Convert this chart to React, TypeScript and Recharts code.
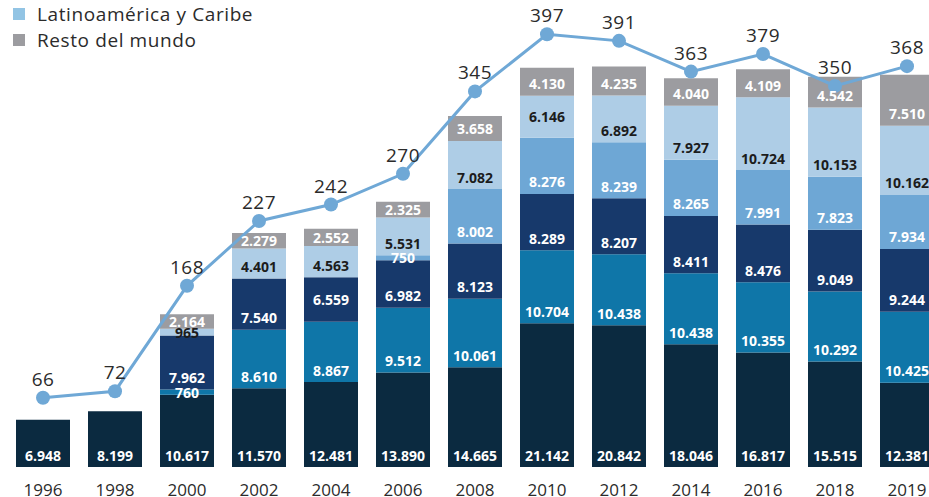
import React from 'react';
import { ComposedChart, Bar, Line, XAxis, YAxis, LabelList } from 'recharts';

const years = ['1996', '1998', '2000', '2002', '2004', '2006', '2008', '2010', '2012', '2014', '2016', '2018', '2019'];
const serie1 = [6948, 8199, 10617, 11570, 12481, 13890, 14665, 21142, 20842, 18046, 16817, 15515, 12381];
const serie2 = [0, 0, 760, 8610, 8867, 9512, 10061, 10704, 10438, 10438, 10355, 10292, 10425];
const serie3 = [0, 0, 7962, 7540, 6559, 6982, 8123, 8289, 8207, 8411, 8476, 9049, 9244];
const serie4 = [0, 0, 0, 0, 0, 750, 8002, 8276, 8239, 8265, 7991, 7823, 7934];
const latam = [0, 0, 965, 4401, 4563, 5531, 7082, 6146, 6892, 7927, 10724, 10153, 10162];
const resto = [0, 0, 2164, 2279, 2552, 2325, 3658, 4130, 4235, 4040, 4109, 4542, 7510];
const total = [66, 72, 168, 227, 242, 270, 345, 397, 391, 363, 379, 350, 368];

const data = years.map((year, i) => ({
  year,
  s1: serie1[i],
  s2: serie2[i],
  s3: serie3[i],
  s4: serie4[i],
  latam: latam[i],
  resto: resto[i],
  total: total[i],
}));

const series = [
  { key: 's1', color: '#0b2a40', text: '#ffffff' },
  { key: 's2', color: '#0f76a8', text: '#ffffff' },
  { key: 's3', color: '#17396b', text: '#ffffff' },
  { key: 's4', color: '#6ea7d5', text: '#ffffff' },
  { key: 'latam', color: '#aecde6', text: '#1c1c1c' },
  { key: 'resto', color: '#9c9ca0', text: '#ffffff' },
];

const legendItems = [
  { label: 'Latinoamérica y Caribe', color: '#92c4e4' },
  { label: 'Resto del mundo', color: '#9c9ca0' },
];

const fmt = (v: number) => String(v).replace(/\B(?=(\d{3})+(?!\d))/g, '.');

const font = '"Open Sans", sans-serif';

// labels sit near the bottom of each segment, centred when the segment (or the one under it) is thin
const makeBarLabel = (idx: number) => (props: any) => {
  const { x, y, width, height, value, index } = props;
  if (!value) return null;
  const h = Number(height);
  const prevKey = idx > 0 ? series[idx - 1].key : null;
  const prevVal = prevKey ? (data[index] as any)[prevKey] : 0;
  const prevH = prevVal ? (h / value) * prevVal : Infinity;
  const cy = h < 20 || prevH < 20 ? Number(y) + h / 2 : Number(y) + h - 12;
  return (
    <text
      x={Number(x) + Number(width) / 2}
      y={cy}
      textAnchor="middle"
      dominantBaseline="central"
      fill={series[idx].text}
      fontFamily={font}
      fontWeight={700}
      fontSize={14}
    >
      {fmt(value)}
    </text>
  );
};

const lineLabel = (props: any) => {
  const { x, y, value } = props;
  return (
    <text x={x} y={Number(y) - 19} textAnchor="middle" dominantBaseline="central" fill="#2b2b2b" fontFamily={font} fontSize={19} letterSpacing={0.5}>
      {value}
    </text>
  );
};

const YearTick = (props: any) => {
  const { x, y, payload } = props;
  return (
    <text x={x} y={Number(y) + 22} textAnchor="middle" dominantBaseline="central" fill="#2b2b2b" fontFamily={font} fontSize={17}>
      {payload.value}
    </text>
  );
};

export default function App() {
  return (
    <div style={{ position: 'absolute', left: 0, top: 0, width: 929, height: 497, overflow: 'hidden', background: '#fff' }}>
      <ComposedChart width={943} height={497} data={data} margin={{ top: 20, right: 0, left: 7, bottom: 0 }}>
        <XAxis dataKey="year" axisLine={false} tickLine={false} tickSize={0} tickMargin={0} height={30} tick={<YearTick />} interval={0} />
        <YAxis yAxisId="bars" hide domain={[0, 65700]} />
        <YAxis yAxisId="line" hide orientation="right" domain={[3, 410]} />
        {series.map((s, i) => (
          <Bar key={s.key} yAxisId="bars" dataKey={s.key} stackId="a" fill={s.color} barSize={54} isAnimationActive={false}>
            <LabelList dataKey={s.key} content={makeBarLabel(i)} />
          </Bar>
        ))}
        <Line
          yAxisId="line"
          dataKey="total"
          stroke="#6fa8d6"
          strokeWidth={3}
          dot={{ r: 7, fill: '#6fa8d6', stroke: 'none' }}
          isAnimationActive={false}
        >
          <LabelList dataKey="total" content={lineLabel} />
        </Line>
      </ComposedChart>
      <div style={{ position: 'absolute', left: 13, top: 1, fontFamily: font, fontSize: 19, letterSpacing: 0.6, color: '#2b2b2b' }}>
        {legendItems.map((it) => (
          <div key={it.label} style={{ display: 'flex', alignItems: 'center', height: 26 }}>
            <span style={{ display: 'inline-block', width: 12, height: 12, background: it.color, marginRight: 12 }} />
            {it.label}
          </div>
        ))}
      </div>
    </div>
  );
}
